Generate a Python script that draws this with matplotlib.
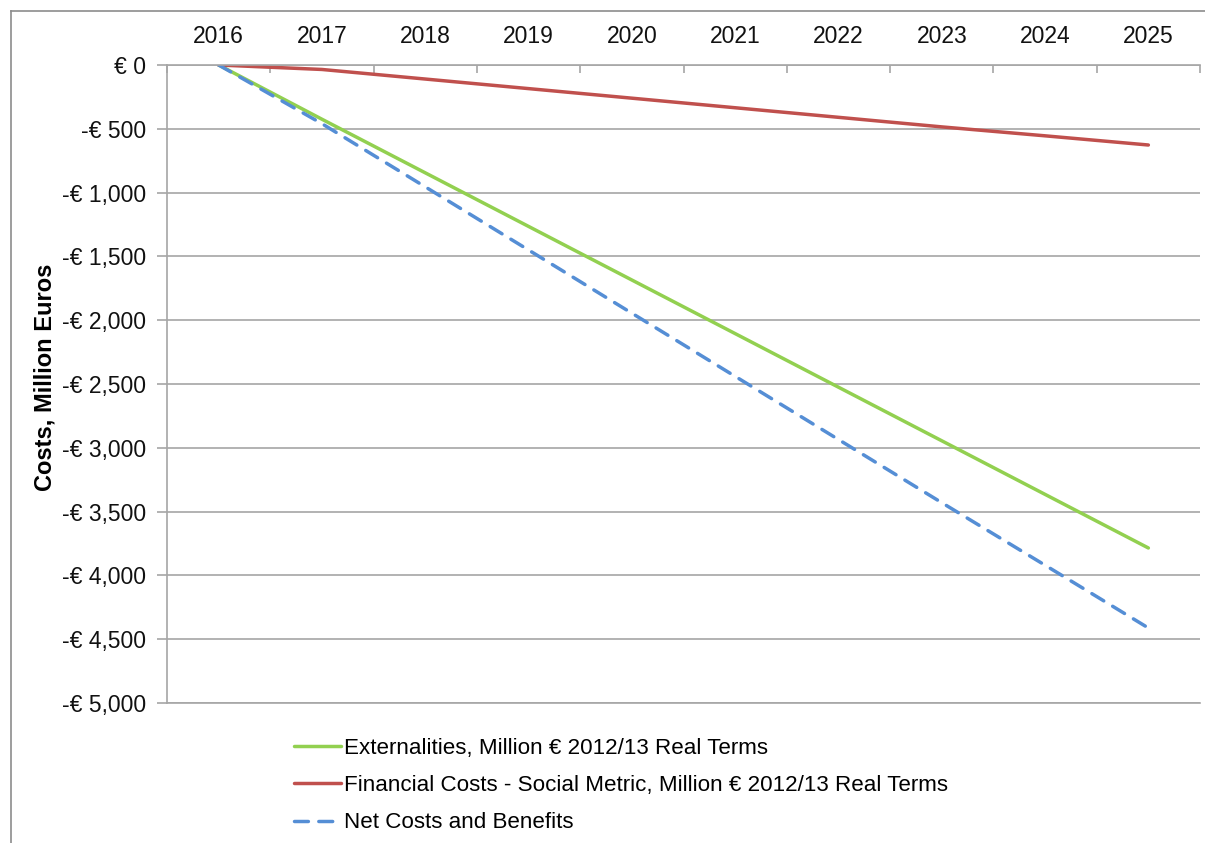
import matplotlib.pyplot as plt
from matplotlib.lines import Line2D

years = ["2016", "2017", "2018", "2019", "2020", "2021", "2022", "2023", "2024", "2025"]
externalities = [0, -425, -845, -1265, -1685, -2105, -2525, -2945, -3365, -3785]
financial = [0, -35, -110, -185, -260, -335, -410, -485, -555, -627]
net = [0, -460, -955, -1450, -1945, -2440, -2935, -3430, -3920, -4412]

yticks = list(range(0, -5001, -500))
ytick_labels = ["€ 0"] + ["-€ {:,}".format(-v) for v in yticks[1:]]

W, H = 1205, 843
fig = plt.figure(figsize=(W / 100, H / 100), dpi=100)
ax = fig.add_axes([167 / W, 1 - 703 / H, (1200 - 167) / W, (703 - 65) / H])

grid_col = "#a6a6a6"
x = list(range(len(years)))
ax.plot(x, externalities, color="#92d050", lw=2.5, label="Externalities, Million € 2012/13 Real Terms",
        solid_capstyle="round")
ax.plot(x, financial, color="#c0504d", lw=2.5, label="Financial Costs - Social Metric, Million € 2012/13 Real Terms",
        solid_capstyle="round")
ax.plot(x, net, color="#558ed5", lw=2.5, dashes=(4, 3), dash_capstyle="round",
        label="Net Costs and Benefits")

ax.set_xlim(-0.5, 9.5)
ax.set_ylim(-5000, 0)

# y axis
ax.set_yticks(yticks)
ax.set_yticklabels(ytick_labels, fontsize=16.5, family="Liberation Sans", color="#111111")
ax.tick_params(axis="y", length=7, width=1.2, color=grid_col, pad=8)
ax.yaxis.grid(True, color=grid_col, lw=1.2)
ax.set_axisbelow(True)

# x axis labels on top, boundary ticks pointing down
ax.xaxis.tick_top()
ax.set_xticks(x)
ax.set_xticklabels(years, fontsize=16.5, family="Liberation Sans", color="#111111")
ax.set_xticks([i - 0.5 for i in range(len(years) + 1)], minor=True)
ax.tick_params(axis="x", which="major", length=0, pad=12)
ax.tick_params(axis="x", which="minor", top=True, bottom=False, direction="in",
               length=6, width=1.2, color=grid_col)

ax.spines["right"].set_visible(False)
for side in ["left", "top", "bottom"]:
    ax.spines[side].set_color(grid_col)
    ax.spines[side].set_linewidth(1.2)

fig.text(45 / W, 1 - 377 / H, "Costs, Million Euros", rotation=90, ha="center", va="center",
         fontsize=17, fontweight="bold", family="Liberation Sans")

leg = fig.legend(loc="upper left", bbox_to_anchor=(283 / W, 1 - 727 / H), frameon=False,
                 prop={"family": "Liberation Sans", "size": 16.1},
                 handlelength=2.1, handletextpad=0.12, labelspacing=0.72, borderpad=0)

# outer chart border (cut off at right and bottom)
fig.add_artist(Line2D([11 / W, 11 / W], [0, 1 - 11 / H], color="#8c8c8c", lw=1.2))
fig.add_artist(Line2D([11 / W, 1], [1 - 11 / H, 1 - 11 / H], color="#8c8c8c", lw=1.2))

fig.savefig("out.png", dpi=100)
